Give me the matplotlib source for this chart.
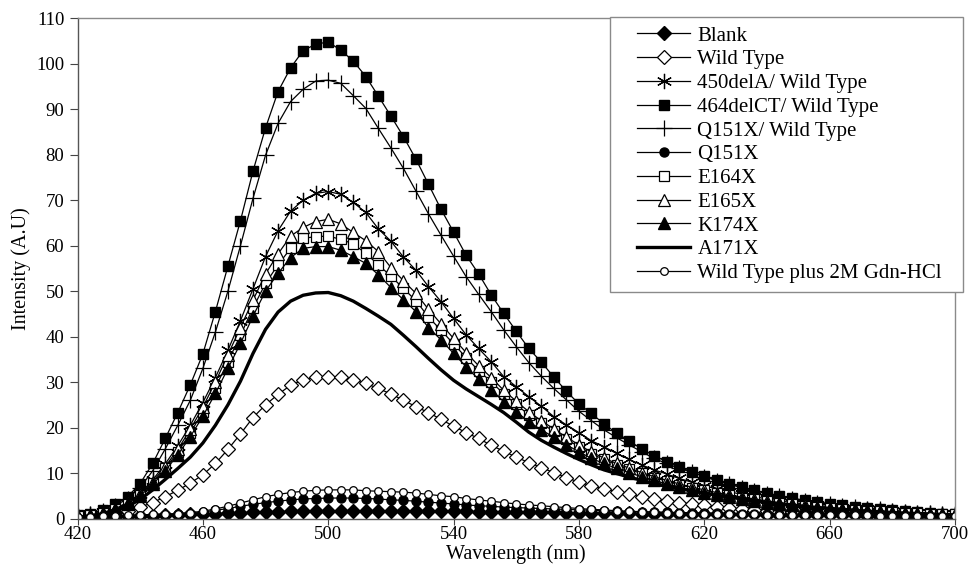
import matplotlib
matplotlib.use("Agg")
import matplotlib.pyplot as plt
from matplotlib.patches import Rectangle

plt.rcParams['font.family'] = ['Liberation Serif', 'DejaVu Serif']

wavelength = list(range(420, 704, 4))

blank = [0.4,0.4,0.4,0.4,0.5,0.5,0.6,0.7,0.8,0.9,
         1.0,1.1,1.2,1.3,1.4,1.5,1.5,1.6,1.6,1.6,
         1.6,1.6,1.6,1.6,1.6,1.6,1.6,1.6,1.6,1.6,
         1.6,1.6,1.5,1.5,1.5,1.5,1.4,1.4,1.4,1.3,
         1.3,1.3,1.2,1.2,1.2,1.1,1.1,1.1,1.0,1.0,
         1.0,1.0,0.9,0.9,0.9,0.8,0.8,0.8,0.8,0.7,
         0.7,0.7,0.7,0.6,0.6,0.6,0.6,0.6,0.5,0.5,
         0.5]

wild_type = [0.3,0.5,0.8,1.2,1.7,2.5,3.5,4.8,6.2,7.8,
             9.6,12.1,15.2,18.6,22.2,25.0,27.3,29.3,30.5,31.1,
             31.2,31.1,30.5,29.7,28.6,27.4,26.0,24.6,23.3,21.8,
             20.3,18.9,17.6,16.1,14.8,13.5,12.3,11.2,10.1,9.0,
             8.0,7.2,6.5,5.9,5.3,4.8,4.3,3.9,3.5,3.2,
             2.9,2.6,2.3,2.1,1.9,1.7,1.5,1.4,1.3,1.2,
             1.1,1.0,0.9,0.9,0.8,0.8,0.7,0.7,0.6,0.6,
             0.6]

del450a_wt = [0.6,0.9,1.4,2.2,3.5,5.5,8.5,12.0,16.0,20.5,
              25.5,31.0,37.0,43.5,50.5,57.6,63.3,67.6,70.0,71.5,
              71.9,71.3,69.5,67.3,63.7,61.0,57.5,54.6,51.0,47.7,
              44.0,40.4,37.4,34.5,31.2,29.0,26.8,24.7,22.4,20.6,
              18.9,17.1,15.8,14.3,13.0,11.8,10.7,9.8,8.8,8.0,
              7.2,6.5,5.9,5.3,4.8,4.3,3.9,3.5,3.2,2.9,
              2.6,2.4,2.2,2.0,1.8,1.6,1.5,1.3,1.2,1.1,
              1.0]

del464ct_wt = [0.7,1.1,1.9,3.1,4.8,7.7,12.1,17.6,23.3,29.4,
               36.2,45.5,55.5,65.5,76.4,85.9,93.9,99.1,102.9,104.3,
               104.8,103.0,100.6,97.2,92.9,88.5,84.0,79.0,73.5,68.0,
               63.0,57.9,53.8,49.2,45.1,41.2,37.4,34.4,31.1,28.0,
               25.2,23.1,20.8,18.8,17.1,15.3,13.8,12.5,11.3,10.3,
               9.3,8.4,7.6,6.9,6.2,5.6,5.0,4.5,4.0,3.6,
               3.3,2.9,2.6,2.3,2.1,1.8,1.6,1.4,1.2,1.1,
               1.0]

q151x_wt = [0.6,1.0,1.7,2.8,4.4,6.8,10.5,15.3,20.5,26.0,
            33.0,41.0,50.0,60.0,70.4,79.9,86.9,91.7,94.4,96.2,
            96.4,95.7,93.0,90.2,85.8,81.5,77.0,72.0,67.0,62.3,
            57.7,53.2,49.3,45.5,41.5,37.8,34.3,31.3,28.6,26.1,
            23.6,21.5,19.5,17.8,16.2,14.7,13.2,12.1,11.0,10.2,
            9.2,8.3,7.5,6.8,6.1,5.5,4.9,4.4,3.9,3.5,
            3.2,2.8,2.5,2.2,2.0,1.7,1.5,1.3,1.2,1.0,
            0.9]

q151x = [0.3,0.3,0.3,0.4,0.4,0.5,0.6,0.7,0.9,1.1,
         1.4,1.8,2.2,2.7,3.1,3.5,3.8,4.1,4.3,4.4,
         4.5,4.5,4.5,4.4,4.3,4.1,4.0,3.8,3.6,3.4,
         3.2,3.0,2.8,2.7,2.5,2.4,2.3,2.2,2.1,2.0,
         1.9,1.8,1.7,1.6,1.5,1.5,1.4,1.4,1.3,1.3,
         1.2,1.2,1.1,1.1,1.0,1.0,1.0,0.9,0.9,0.9,
         0.9,0.8,0.8,0.8,0.8,0.8,0.7,0.7,0.7,0.7,
         0.7]

e164x = [0.5,0.8,1.3,2.1,3.3,5.2,7.8,11.0,14.6,18.8,
         23.5,28.8,34.5,40.3,46.3,51.7,55.8,59.4,61.6,62.0,
         62.1,61.4,60.4,58.3,55.8,53.3,50.6,47.9,44.3,41.4,
         38.4,35.4,32.5,30.1,27.4,25.1,22.8,20.9,19.2,17.4,
         15.8,14.2,13.0,11.8,10.8,9.9,9.0,8.2,7.4,6.8,
         6.2,5.6,5.1,4.6,4.2,3.8,3.4,3.1,2.8,2.6,
         2.3,2.1,1.9,1.7,1.6,1.4,1.3,1.2,1.1,1.0,
         0.9]

e165x = [0.5,0.8,1.3,2.2,3.4,5.4,8.1,11.4,15.2,19.6,
         24.5,30.0,36.0,42.0,48.0,53.8,58.2,62.1,64.0,65.3,
         65.8,64.8,62.9,61.1,58.7,55.2,52.3,49.5,46.0,42.8,
         39.6,36.5,33.6,31.0,28.2,25.8,23.5,21.5,19.7,17.9,
         16.2,14.6,13.3,12.1,11.1,10.1,9.2,8.4,7.6,6.9,
         6.3,5.7,5.2,4.7,4.3,3.9,3.5,3.2,2.9,2.6,
         2.4,2.2,2.0,1.8,1.6,1.5,1.3,1.2,1.1,1.0,
         0.9]

k174x = [0.5,0.8,1.2,2.0,3.2,5.0,7.5,10.5,14.0,18.0,
         22.5,27.5,33.0,38.5,44.5,50.0,53.9,57.4,59.4,59.8,
         59.8,59.0,57.6,56.1,53.6,50.8,48.1,45.5,42.0,39.3,
         36.3,33.4,30.6,28.3,25.7,23.5,21.3,19.5,17.9,16.2,
         14.7,13.2,12.1,11.0,10.1,9.2,8.4,7.6,6.9,6.3,
         5.7,5.2,4.7,4.3,3.9,3.5,3.2,2.9,2.6,2.4,
         2.2,2.0,1.8,1.6,1.5,1.3,1.2,1.1,1.0,0.9,
         0.8]

a171x = [0.3,0.5,0.9,1.6,2.7,4.2,6.3,8.6,11.0,13.5,
         16.6,20.5,25.0,30.2,36.3,41.6,45.4,47.8,49.1,49.6,
         49.7,49.0,47.8,46.2,44.5,42.7,40.3,37.8,35.2,32.7,
         30.4,28.5,26.8,25.1,23.3,21.2,19.0,17.2,15.7,14.3,
         13.0,11.8,10.7,9.9,9.1,8.4,7.7,7.1,6.6,6.1,
         5.6,5.1,4.7,4.3,3.9,3.5,3.2,2.9,2.6,2.4,
         2.2,2.0,1.8,1.6,1.5,1.3,1.2,1.1,1.0,0.9,
         0.8]

wt_gdn = [0.3,0.4,0.5,0.6,0.7,0.8,0.9,1.0,1.1,1.3,
          1.6,2.1,2.7,3.4,4.1,4.8,5.3,5.7,6.0,6.2,
          6.3,6.3,6.3,6.1,6.0,5.9,5.8,5.6,5.3,5.0,
          4.8,4.4,4.1,3.8,3.5,3.2,3.0,2.8,2.6,2.4,
          2.2,2.0,1.9,1.7,1.6,1.5,1.4,1.3,1.2,1.1,
          1.0,1.0,0.9,0.9,0.9,0.8,0.8,0.8,0.8,0.7,
          0.7,0.7,0.7,0.7,0.6,0.6,0.6,0.6,0.6,0.6,
          0.6]

labels = ["Blank", "Wild Type", "450delA/ Wild Type", "464delCT/ Wild Type",
          "Q151X/ Wild Type", "Q151X", "E164X", "E165X", "K174X", "A171X",
          "Wild Type plus 2M Gdn-HCl"]
x_ticks = [420, 460, 500, 540, 580, 620, 660, 700]
y_ticks = [0, 10, 20, 30, 40, 50, 60, 70, 80, 90, 100, 110]

series = [blank, wild_type, del450a_wt, del464ct_wt, q151x_wt, q151x,
          e164x, e165x, k174x, a171x, wt_gdn]

styles = [
    dict(marker='D', ms=7.5, mfc='black', mec='black', lw=0.9),
    dict(marker='D', ms=7.5, mfc='white', mec='black', mew=0.9, lw=0.9),
    dict(marker=(6, 2, 0), ms=11, mfc='black', mec='black', mew=0.9, lw=0.9),
    dict(marker='s', ms=6.5, mfc='black', mec='black', lw=0.9),
    dict(marker='+', ms=12, mec='black', mew=0.9, lw=0.9),
    dict(marker='o', ms=6.5, mfc='black', mec='black', lw=0.9),
    dict(marker='s', ms=6.5, mfc='white', mec='black', mew=0.9, lw=0.9),
    dict(marker='^', ms=8, mfc='white', mec='black', mew=0.9, lw=0.9),
    dict(marker='^', ms=8, mfc='black', mec='black', lw=0.9),
    dict(marker=None, lw=2.4),
    dict(marker='o', ms=5.5, mfc='white', mec='black', mew=0.9, lw=0.9),
]

fig = plt.figure(figsize=(9.7, 5.76), dpi=100)
ax = fig.add_axes([0.0799, 0.0998, 0.9046, 0.8684])

handles = []
for vals, lab, st in zip(series, labels, styles):
    h, = ax.plot(wavelength, vals, color='black', label=lab, **st)
    handles.append(h)

ax.set_xlim(420, 700)
ax.set_ylim(0, 110)
ax.set_xticks(x_ticks)
ax.set_yticks(y_ticks)
ax.tick_params(axis='both', direction='out', width=0.8,
               labelsize=13.5, colors='#444444', labelcolor='black')
ax.tick_params(axis='x', length=4, pad=1.5)
ax.tick_params(axis='y', length=5.5, pad=4)
for s in ['top', 'right']:
    ax.spines[s].set_color('#8a8a8a')
for s in ['left', 'bottom']:
    ax.spines[s].set_color('#555555')
for s in ax.spines.values():
    s.set_linewidth(1.0)

ax.set_xlabel("Wavelength (nm)", fontsize=14.5, labelpad=1)
ax.set_ylabel("Intensity (A.U)", fontsize=14.5, labelpad=4)

# legend box (Excel-style)
rect = Rectangle((610 / 970, 1 - 292 / 576), 353 / 970, 275 / 576,
                 transform=fig.transFigure, facecolor='white',
                 edgecolor='#8a8a8a', linewidth=1.0, zorder=5)
fig.patches.append(rect)

leg = fig.legend(handles=handles, labels=labels, loc='upper left',
                 bbox_to_anchor=(637 / 970, 1 - 26 / 576),
                 bbox_transform=fig.transFigure, frameon=False,
                 fontsize=15, borderpad=0, borderaxespad=0,
                 handlelength=2.55, handletextpad=0.35, labelspacing=0.2,
                 numpoints=1)
leg.set_zorder(6)

fig.savefig("out.png", dpi=100, facecolor='white')
